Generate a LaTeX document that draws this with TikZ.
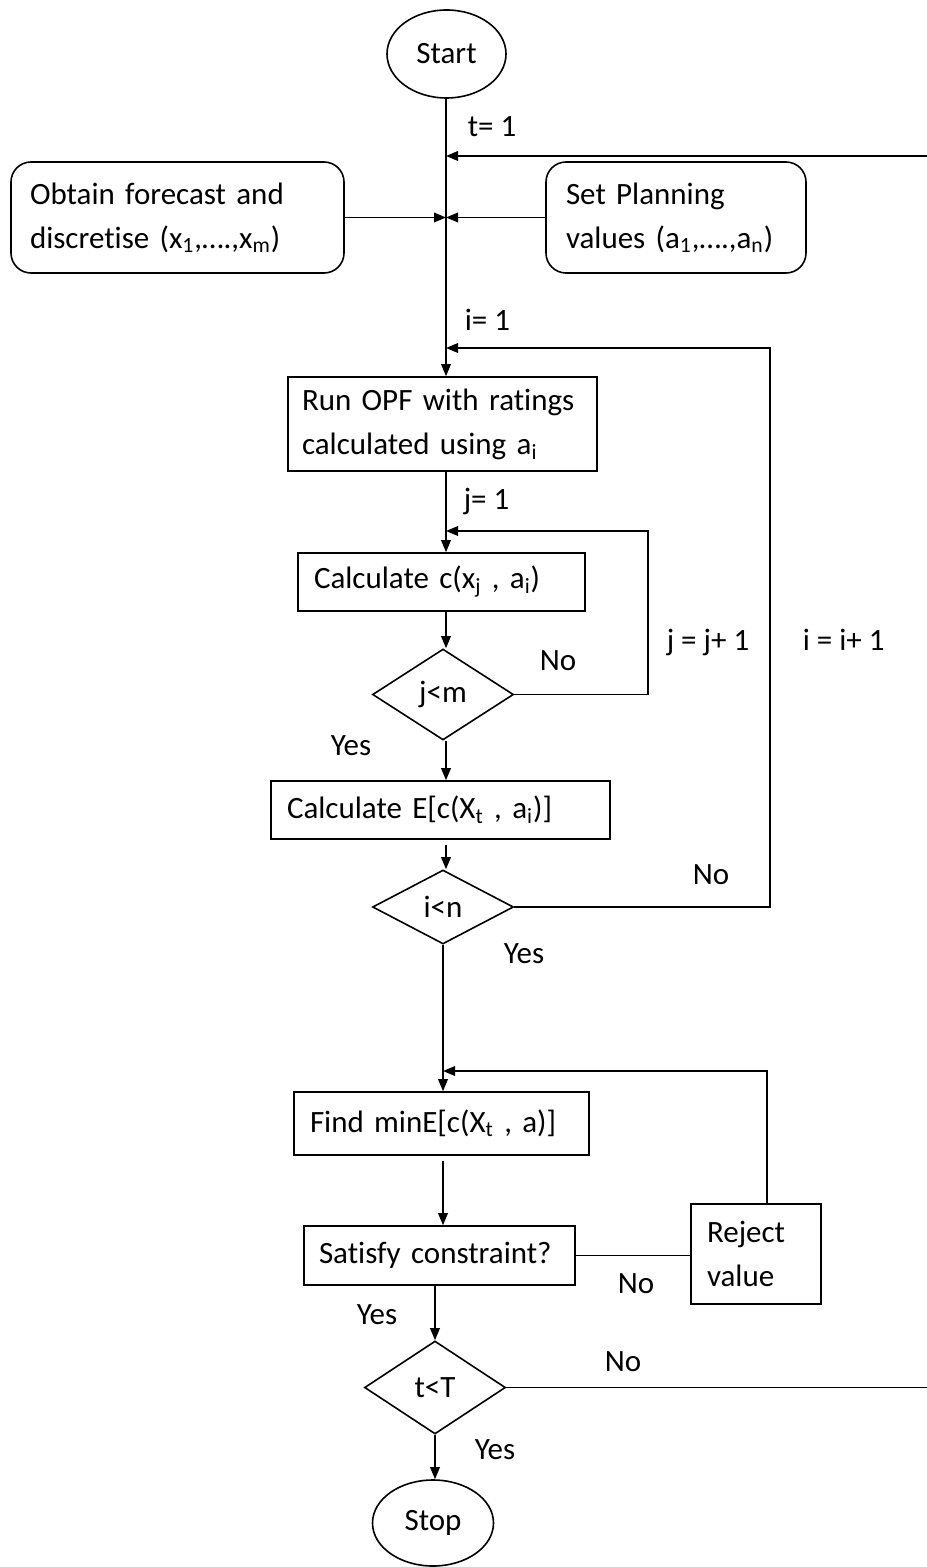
\documentclass[tikz,border=0pt]{standalone}
\usepackage{fontspec}
\setmainfont[Ligatures={NoCommon}]{Carlito}
\usetikzlibrary{shapes.geometric,arrows.meta}
\begin{document}
\begin{tikzpicture}[x=0.5pt,y=-0.5pt,
  font=\fontsize{15.5pt}{22pt}\selectfont,
  line width=0.8pt,
  arr/.style={-{Triangle[length=6pt,width=4.8pt]}},
  procbox/.style={draw, rectangle, align=left, inner ysep=0pt},
  roundbox/.style={procbox, rounded corners=10pt},
  decision/.style={draw, diamond, inner sep=0pt, minimum width=70.5pt},
  terminal/.style={draw, ellipse, inner sep=0pt},
  lbl/.style={anchor=base west, inner sep=0pt}]
\useasboundingbox (0,0) rectangle (926,1567);

% terminals
\node[terminal, minimum width=59.5pt, minimum height=44pt] (start) at (446.5,54) {Start};
\node[terminal, minimum width=60.5pt, minimum height=43pt] (stop) at (433,1523) {Stop};

% inputs
\node[roundbox, text width=147.5pt, inner xsep=9.5pt, minimum height=55.5pt] (obt) at (177.5,217.5)
  {Obtain forecast and\\discretise (x\textsubscript{1},….,x\textsubscript{m})};
\node[roundbox, text width=110pt, inner xsep=10pt, minimum height=55.5pt] (set) at (676,217.5)
  {Set Planning\\values (a\textsubscript{1},….,a\textsubscript{n})};

% process steps
\node[procbox, text width=140.5pt, inner xsep=7pt, minimum height=47pt] (run) at (442.5,424)
  {Run OPF with ratings\\calculated using a\textsubscript{i}};
\node[procbox, text width=127.5pt, inner xsep=8pt, minimum height=29pt] (cc) at (441.5,582)
  {Calculate c(x\textsubscript{j} , a\textsubscript{i})};
\node[procbox, text width=153.5pt, inner xsep=8pt, minimum height=29pt] (ce) at (440.5,810)
  {Calculate E[c(X\textsubscript{t} , a\textsubscript{i})]};
\node[procbox, text width=131.5pt, inner xsep=8pt, minimum height=31.5pt] (find) at (441.5,1123.5)
  {Find minE[c(X\textsubscript{t} , a)]};
\node[procbox, text width=120.5pt, inner xsep=7.5pt, minimum height=29.5pt] (sat) at (439.5,1255.5)
  {Satisfy constraint?};
\node[procbox, text width=49pt, inner xsep=8pt, minimum height=50pt] (rej) at (756,1254)
  {Reject\\value};

% decisions
\node[decision, minimum height=45.5pt] (jm) at (443,694.5) {j<m};
\node[decision, minimum height=37pt] (in) at (443,907) {i<n};
\node[decision, minimum height=46.5pt] (tT) at (435,1387.5) {t<T};

% junction points on the main line and loop corners
\coordinate (tj) at (446,156);
\coordinate (mj) at (446,217.5);
\coordinate (ij) at (446,348);
\coordinate (jj) at (446,531);
\coordinate (rj) at (443,1071);
\coordinate (tx) at (934,156);
\coordinate (ix) at (770,348);
\coordinate (jx) at (648,531);
\coordinate (rx) at (767,1071);

% main flow
\draw[arr] (start.south -| tj) -- (run.north -| tj);
\draw[arr] (obt.east) -- (mj);
\draw[arr] (set.west) -- (mj);
\draw[arr] (run.south -| tj) -- (cc.north -| tj);
\draw[arr] (cc.south -| tj) -- (jm.north -| tj);
\draw[arr] (jm.south -| tj) -- (ce.north -| tj);
\draw[arr, shorten <=2.5pt] (ce.south -| tj) -- (in.north -| tj);
\draw[arr] (in.south) -- (in.south |- find.north);
\draw[arr, shorten <=2.5pt] (find.south -| rj) -- (sat.north -| rj);
\draw[arr] (sat.south -| tT) -- (tT.north);
\draw[arr] (tT.south) -- (tT.south |- stop.north);

% loops
\draw[arr] (jm.east) -| (jx) -- (jj);
\draw[arr] (in.east) -| (ix) -- (ij);
\draw (sat.east) -- (sat.east -| rej.west);
\draw[arr] (rx |- rej.north) -- (rx) -- (rj);
\draw[arr] (tT.east) -- (tT.east -| tx) -- (tx) -- (tj);

% labels
\node[lbl] (lt1) at (467,137) {t= 1};
\node[lbl] (li1) at (464,330) {i= 1};
\node[lbl] (lj1) at (463,509) {j= 1};
\node[lbl] (lno1) at (539,670) {No};
\node[lbl] (ljinc) at (666,650) {j = j+ 1};
\node[lbl] (liinc) at (802,650) {i = i+ 1};
\node[lbl] (lyes1) at (330,755) {Yes};
\node[lbl] (lno2) at (692,884) {No};
\node[lbl] (lyes2) at (503,963) {Yes};
\node[lbl] (lno3) at (617,1293) {No};
\node[lbl] (lyes3) at (356,1324) {Yes};
\node[lbl] (lno4) at (604,1371) {No};
\node[lbl] (lyes4) at (474,1459) {Yes};
\end{tikzpicture}
\end{document}
